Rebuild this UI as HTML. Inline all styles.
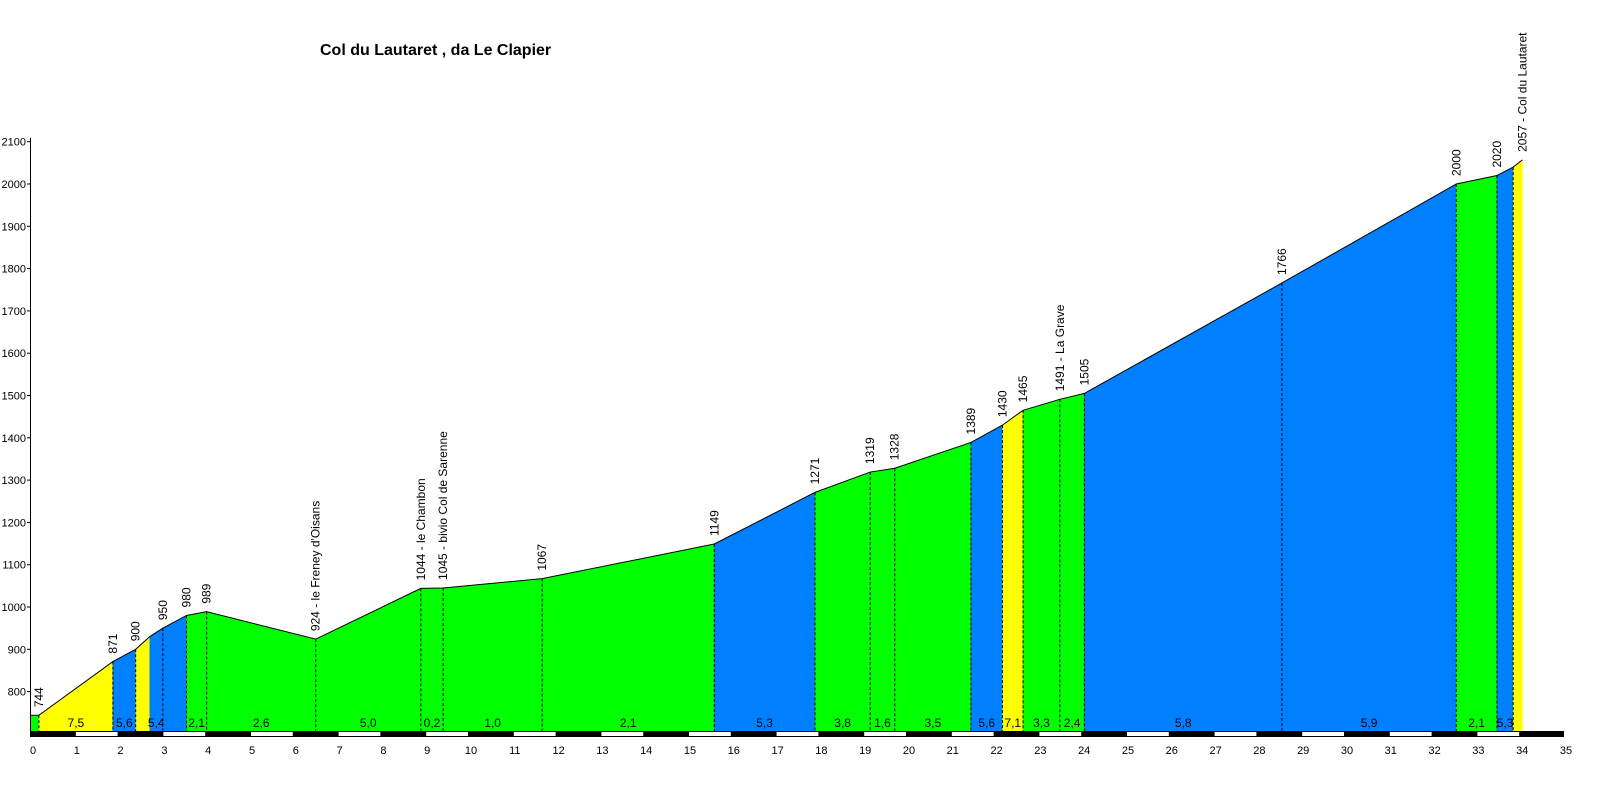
<!DOCTYPE html>
<html><head><meta charset="utf-8"><style>
html,body{margin:0;padding:0;background:#fff;}
svg{display:block;font-family:"Liberation Sans",Arial,sans-serif;}
</style></head><body>
<svg id="chart" width="1600" height="800" viewBox="0 0 1600 800" xmlns="http://www.w3.org/2000/svg">
<text x="320" y="55" font-size="16" font-weight="bold">Col du Lautaret , da Le Clapier</text>
<g id="plot"></g>
</svg>
<script>
const kms = [0, 0.18, 1.87, 2.39, 2.71, 3.01, 3.55, 4.01, 6.5, 8.9, 9.41, 11.67, 15.6, 17.9, 19.16, 19.72, 21.46, 22.18, 22.65, 23.49, 24.05, 28.56, 32.54, 33.47, 33.84, 34.05];
const elevations = [744, 744, 871, 900, 930, 950, 980, 989, 924, 1044, 1045, 1067, 1149, 1271, 1319, 1328, 1389, 1430, 1465, 1491, 1505, 1766, 2000, 2020, 2040, 2057];
const pointLabels = ["", "744", "871", "900", "", "950", "980", "989", "924 - le Freney d'Oisans", "1044 - le Chambon", "1045 - bivio Col de Sarenne", "1067", "1149", "1271", "1319", "1328", "1389", "1430", "1465", "1491 - La Grave", "1505", "1766", "2000", "2020", "", "2057 - Col du Lautaret"];
const dashedAt = [0,1,1,1,0,1,1,1,1,1,1,1,1,1,1,1,1,1,1,1,1,1,1,1,1,0];
const segmentLabels = ["", "7,5", "5,6", "", "5,4", "", "2,1", "2,6", "5,0", "0,2", "1,0", "2,1", "5,3", "3,8", "1,6", "3,5", "5,6", "7,1", "3,3", "2,4", "5,8", "5,9", "2,1", "5,3", ""];
const yTicks = [800, 900, 1000, 1100, 1200, 1300, 1400, 1500, 1600, 1700, 1800, 1900, 2000, 2100];
const xTicks = Array.from({length:36},(_,i)=>i);

const X0 = 31, KX = 43.8, BASE = 731;
const x = km => X0 + km * KX;
const y = e => 607 - (e - 1000) * 0.423;
const NS = "http://www.w3.org/2000/svg";
const plot = document.getElementById('plot');
function mk(tag, attrs, txt){const el=document.createElementNS(NS,tag);for(const k in attrs)el.setAttribute(k,attrs[k]);if(txt!==undefined)el.textContent=txt;plot.appendChild(el);return el;}

// segments
for(let i=0;i<kms.length-1;i++){
  const g=(elevations[i+1]-elevations[i])/((kms[i+1]-kms[i])*1000)*100;
  let col = g>=7 ? '#ffff00' : (g>=5 ? '#0080ff' : '#00ff00');
  const p=mk('polygon',{points:`${x(kms[i])},${BASE} ${x(kms[i])},${y(elevations[i])} ${x(kms[i+1])},${y(elevations[i+1])} ${x(kms[i+1])},${BASE}`,fill:col,stroke:col,'stroke-width':0.5});
  
  
  if(segmentLabels[i]){
    const t=mk('text',{x:(x(kms[i])+x(kms[i+1]))/2,y:BASE-4,'font-size':12,'text-anchor':'middle',fill:'#000'},segmentLabels[i]);
    
    
  }
}
// outline
const ol=mk('polyline',{points:kms.map((k,i)=>`${x(k)},${y(elevations[i])}`).join(' '),fill:'none',stroke:'#000','stroke-width':1});


// dashed lines and labels
for(let i=0;i<kms.length;i++){
  if(dashedAt[i]){
    const d=mk('line',{x1:x(kms[i]),y1:y(elevations[i]),x2:x(kms[i]),y2:BASE,stroke:'#000','stroke-width':1,'stroke-dasharray':'3,2'});
    
    
  }
  if(pointLabels[i]){
    const px=x(kms[i])+4, py=y(elevations[i])-8;
    const t=mk('text',{x:px,y:py,'font-size':12,transform:`rotate(-90 ${px} ${py})`,fill:'#000'},pointLabels[i]);
    
    
  }
}
// axes
const ya=mk('line',{x1:30.5,y1:y(2100)-4,x2:30.5,y2:BASE,stroke:'#000','stroke-width':1});


yTicks.forEach(v=>{
  const tk=mk('line',{x1:27,y1:y(v),x2:30,y2:y(v),stroke:'#000'});
  
  
  const t=mk('text',{x:26,y:y(v)+4,'font-size':11,'text-anchor':'end'},String(v));
  
  
});
const bar=mk('rect',{x:30,y:BASE,width:x(35)-30,height:6,fill:'#000'});


for(let k=1;k<35;k+=2){
  const w=mk('rect',{x:x(k)+1,y:BASE+1,width:KX-2,height:4,fill:'#fff'});
  
  
}
xTicks.forEach(k=>{
  const t=mk('text',{x:x(k)+2,y:754,'font-size':11,'text-anchor':'middle'},String(k));
  
  
});
</script>
</body></html>
